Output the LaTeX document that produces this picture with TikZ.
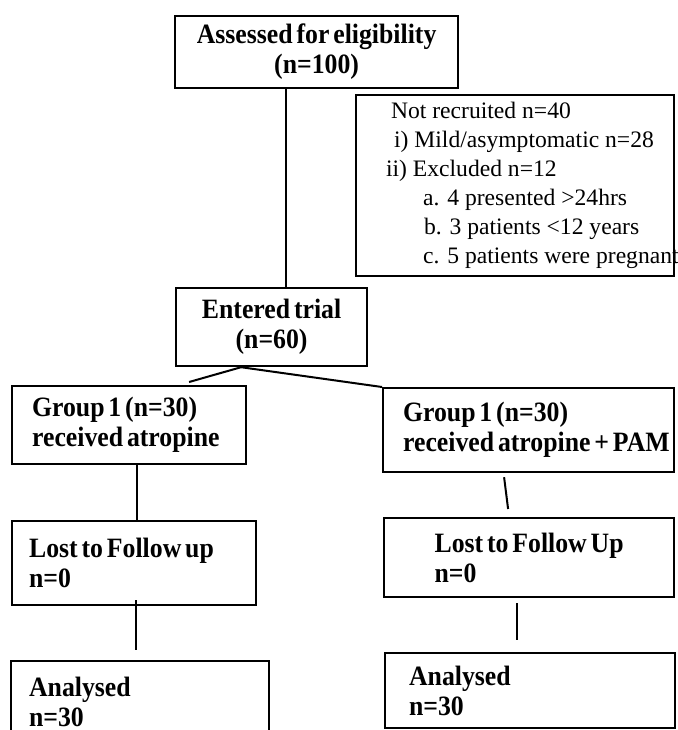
\documentclass[tikz,border=0pt]{standalone}
\usepackage{fontspec}
\setmainfont{Liberation Serif}
\newfontfamily\narrowserif[FakeStretch=0.92,WordSpace=0.6]{Liberation Serif}
\usepackage{tikz}
\usetikzlibrary{positioning}

\begin{document}
\begin{tikzpicture}[x=0.5pt, y=-0.5pt,
		flowbox/.style={draw, line width=1.1pt, anchor=north west, align=flush left, inner ysep=2pt,
			font=\narrowserif\bfseries\fontsize{14}{15}\selectfont},
		notebox/.style={draw, line width=1.1pt, anchor=north west, align=flush left, inner ysep=2pt,
			font=\fontsize{11.8}{14.5}\selectfont},
		link/.style={line width=1pt}]
		\useasboundingbox (0,0) rectangle (677,730);
		
		\node[flowbox, align=flush center, text width=133.5pt, inner xsep=4pt, minimum height=36pt] (assessed)  at (174,15)  {Assessed for eligibility\\(n=100)};
		\node[notebox, text width=151pt, inner xsep=4pt, minimum height=90.5pt]                        (notrec)    at (355,94)  {\hspace*{13.5pt}Not recruited n=40\\
			\hspace*{15pt}i) Mild/asymptomatic n=28\\
			\hspace*{11pt}ii) Excluded n=12\\
			\hspace*{29.5pt}a. 4 presented >24hrs\\
			\hspace*{30pt}b. 3 patients <12 years\\
			\hspace*{29.5pt}\mbox{c. 5 patients were pregnant}};
		\node[flowbox, align=flush center, text width=87.5pt, inner xsep=4pt, minimum height=39pt]     (entered)   at (175,287) {Entered trial\\(n=60)};
		\node[flowbox, text width=97pt, inner xsep=10pt, minimum height=39pt]                          (groupa)    at (11,385)  {Group 1 (n=30)\\received atropine};
		\node[flowbox, text width=125.5pt, inner xsep=10pt, minimum height=42pt]                       (groupb)    at (382,387) {Group 1 (n=30)\\\mbox{received atropine + PAM}};
		\node[flowbox, text width=105pt, inner xsep=8.5pt, minimum height=42pt]                        (losta)     at (11,520)  {Lost to Follow up\\n=0};
		\node[flowbox, minimum width=145pt, inner xsep=2pt, minimum height=39.5pt]                     (lostb)     at (383,517) {Lost to Follow Up\\n=0};
		\node[flowbox, text width=110.5pt, inner xsep=9.25pt, minimum height=41pt]                     (analyseda) at (9.5,660) {Analysed\\n=30};
		\node[flowbox, text width=121pt, inner xsep=12pt, minimum height=37.5pt]                       (analysedb) at (384,652) {Analysed\\n=30};
		
		\draw[link] ([xshift=-15.25pt]assessed.south) -- ([xshift=-15.25pt]assessed.south |- entered.north);
		\draw[link] ([xshift=30pt,yshift=1.5pt]groupa.north) -- ([xshift=-15.25pt]entered.south) -- (groupb.north west);
		\draw[link] ([xshift=4pt]groupa.south) -- ([xshift=4pt]groupa.south |- losta.north);
		\draw[link] ([xshift=1pt,yshift=3pt]losta.south) -- ([xshift=1pt,yshift=5pt]losta.south |- analyseda.north);
		\draw[link] ([xshift=-12.25pt,yshift=-2pt]groupb.south) -- ([xshift=-10.5pt,yshift=4pt]lostb.north);
		\draw[link] ([xshift=-6pt,yshift=-2.5pt]lostb.south) -- ([xshift=-6.5pt,yshift=6pt]analysedb.north);
	\end{tikzpicture}
\end{document}
